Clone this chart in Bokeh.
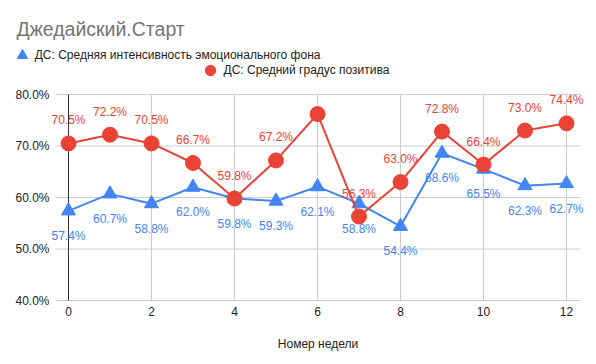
from bokeh.plotting import figure
from bokeh.models import (ColumnDataSource, Range1d, FixedTicker, PrintfTickFormatter,
                          LabelSet, Label, Legend, LegendItem)
from bokeh.core.properties import value
from bokeh.embed import file_html
from bokeh.resources import INLINE

# ---- data ----
title_text = "Джедайский.Старт"
x_title = "Номер недели"
series_names = ["ДС: Средняя интенсивность эмоционального фона", "ДС: Средний градус позитива"]
weeks = [0, 1, 2, 3, 4, 5, 6, 7, 8, 9, 10, 11, 12]
blue_vals = [57.4, 60.7, 58.8, 62.0, 59.8, 59.3, 62.1, 58.8, 54.4, 68.6, 65.5, 62.3, 62.7]
red_vals = [70.5, 72.2, 70.5, 66.7, 59.8, 67.2, 76.2, 56.3, 63.0, 72.8, 66.4, 73.0, 74.4]
red_label_shown = [True, True, True, True, True, True, False, True, True, True, True, True, True]
x_ticks = [0, 2, 4, 6, 8, 10, 12]
y_ticks = [40, 50, 60, 70, 80]

BLUE = "#4285F4"
RED = "#EA4335"
FONT = "Liberation Sans"

# ---- layout geometry (pixels) ----
W, H = 596, 364
PA_L, PA_R, PA_T, PA_B = 55, 580, 94, 300      # plot area box
x_lo, x_hi = -0.313, 12.337                     # data bounds of the plot area
y_lo, y_hi = y_ticks[0], y_ticks[-1]
kx = (PA_R - PA_L) / (x_hi - x_lo)
ky = (PA_B - PA_T) / (y_hi - y_lo)

blue_src = ColumnDataSource(dict(x=weeks, y=blue_vals,
                                 lab=[f"{v:.1f}%" for v in blue_vals]))
red_src = ColumnDataSource(dict(x=weeks, y=red_vals,
                                lab=[f"{v:.1f}%" if s else "" for v, s in zip(red_vals, red_label_shown)]))

p = figure(width=W, height=H, output_backend="svg", toolbar_location=None,
           x_range=Range1d(x_lo - PA_L / kx, x_hi + (W - PA_R) / kx),
           y_range=Range1d(y_lo - (H - PA_B) / ky, y_hi + PA_T / ky),
           min_border_left=0, min_border_right=0, min_border_top=0, min_border_bottom=0)
p.outline_line_color = None
p.background_fill_color = "white"
p.border_fill_color = "white"
p.grid.visible = False

# axes drawn at fixed locations inside the canvas
p.yaxis.fixed_location = x_lo
p.xaxis.fixed_location = y_lo
p.xaxis.bounds = (x_lo, x_hi)
for ax in (p.xaxis[0], p.yaxis[0]):
    ax.axis_line_color = None
    ax.major_tick_line_color = None
    ax.minor_tick_line_color = None
    ax.major_tick_out = 0
    ax.major_label_text_font = FONT
    ax.major_label_text_font_size = "12px"
    ax.major_label_text_color = "#222222"
p.xaxis.ticker = FixedTicker(ticks=x_ticks)
p.yaxis.ticker = FixedTicker(ticks=y_ticks)
p.yaxis.formatter = PrintfTickFormatter(format="%.1f%%")
p.xaxis.major_label_standoff = 6
p.yaxis.major_label_standoff = 6
p.xaxis.axis_label = x_title
p.xaxis.axis_label_text_font = FONT
p.xaxis.axis_label_text_font_size = "12px"
p.xaxis.axis_label_text_font_style = "normal"
p.xaxis.axis_label_text_color = "#222222"
p.xaxis.axis_label_standoff = 18

# gridlines limited to the plot area
p.segment(x0=x_ticks, x1=x_ticks, y0=[y_lo] * len(x_ticks), y1=[y_hi] * len(x_ticks),
          line_color="#cccccc", line_width=1)
p.segment(x0=[x_lo] * len(y_ticks), x1=[x_hi] * len(y_ticks), y0=y_ticks, y1=y_ticks,
          line_color="#cccccc", line_width=1)
# dark baseline at x = 0
p.segment(x0=[weeks[0]], x1=[weeks[0]], y0=[y_lo], y1=[y_hi], line_color="#333333", line_width=1)

# series
p.line("x", "y", source=blue_src, line_color=BLUE, line_width=2)
blue_pts = p.scatter("x", "y", source=blue_src, marker="triangle", size=14,
                     fill_color=BLUE, line_color=BLUE)
p.line("x", "y", source=red_src, line_color=RED, line_width=2)
red_pts = p.scatter("x", "y", source=red_src, marker="circle", size=15,
                    fill_color=RED, line_color=RED)

p.add_layout(LabelSet(x="x", y="y", text="lab", source=blue_src, y_offset=-25,
                      text_align="center", text_baseline="middle", text_color=BLUE,
                      text_font=value(FONT), text_font_size="12px"))
p.add_layout(LabelSet(x="x", y="y", text="lab", source=red_src, y_offset=23,
                      text_align="center", text_baseline="middle", text_color=RED,
                      text_font=value(FONT), text_font_size="12px"))

# title
p.add_layout(Label(x=16, y=H - 28, x_units="screen", y_units="screen", text=title_text,
                   text_font=FONT, text_font_size="19.5px", text_color="#757575",
                   text_baseline="alphabetic"))

# legend rows
def make_legend(name, rend, loc, gw):
    return Legend(items=[LegendItem(label=name, renderers=[rend])], location=loc,
                  padding=0, margin=0, spacing=0, glyph_width=gw, glyph_height=26,
                  label_standoff=0, label_height=26, label_text_font=FONT,
                  label_text_font_size="12px", label_text_color="#222222",
                  border_line_color=None, background_fill_alpha=0)

p.add_layout(make_legend(series_names[0], blue_pts, (8.7, H - 68.3), 26))
p.add_layout(make_legend(series_names[1], red_pts, (195.5, H - 83.3), 28))

open("out.html", "w").write(file_html(p, INLINE))
